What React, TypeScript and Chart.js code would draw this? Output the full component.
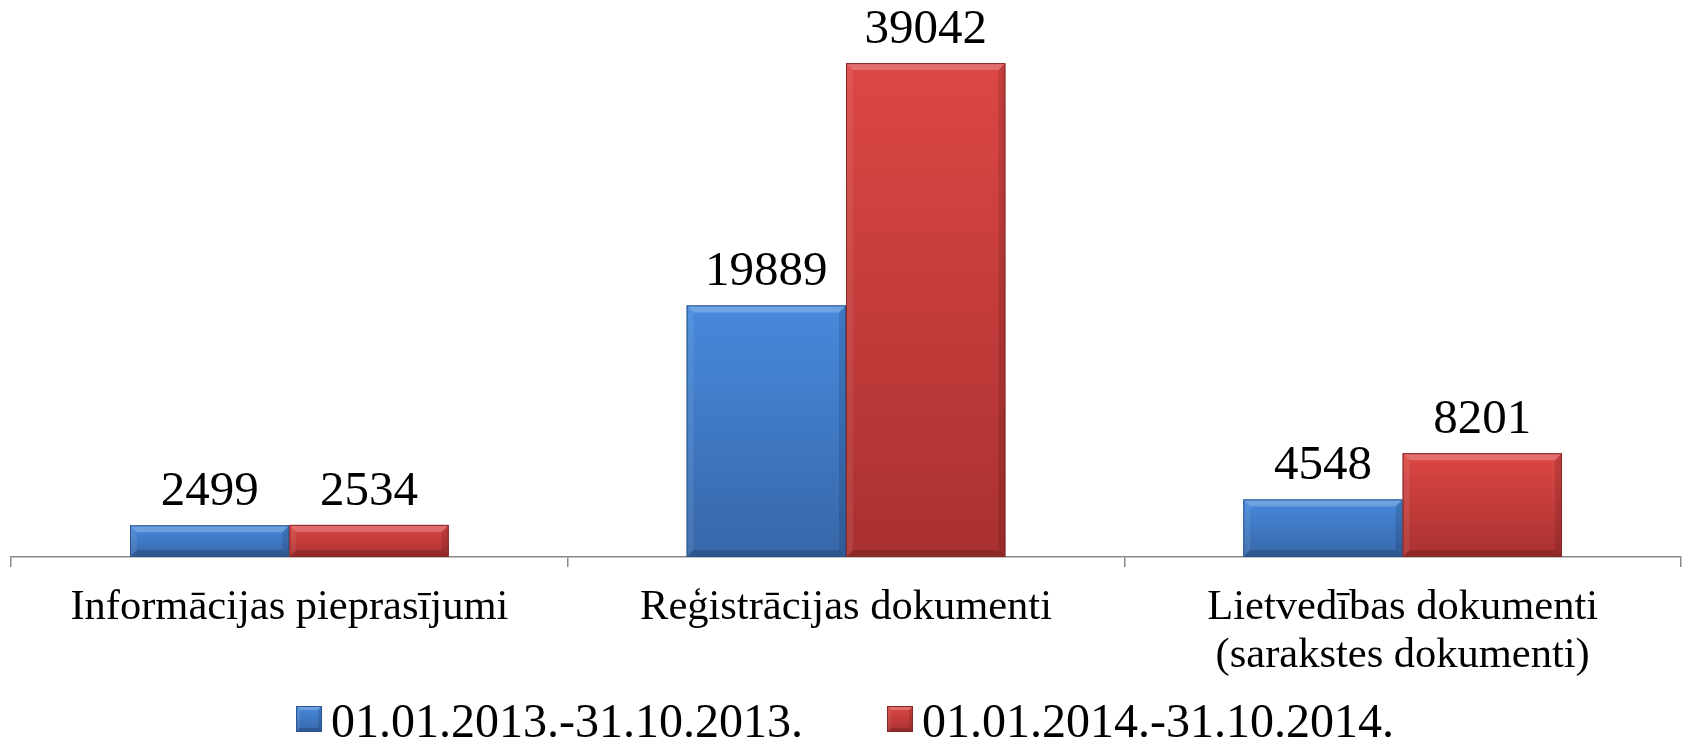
import React, { useEffect, useRef } from "react";
import { Chart, registerables } from "chart.js";

Chart.register(...registerables);

const categories: (string | string[])[] = [
  "Informācijas pieprasījumi",
  "Reģistrācijas dokumenti",
  ["Lietvedības dokumenti", "(sarakstes dokumenti)"],
];
const seriesNames = ["01.01.2013.-31.10.2013.", "01.01.2014.-31.10.2014."];
const values2013 = [2499, 19889, 4548];
const values2014 = [2534, 39042, 8201];
const yMax = 40000;

const FONT = "'Liberation Serif', 'Times New Roman', serif";

const palette = [
  { mid: "#3f7cc9", top: "#4789dc", bottom: "#3767a9", edge: "#2d5690" },
  { mid: "#d03f3d", top: "#dc4745", bottom: "#a93130", edge: "#872625" },
];

function drawBevelRect(ctx: any, l: number, t: number, w: number, h: number, p: any, depth: number) {
  const r = l + w;
  const b = t + h;
  const d = Math.min(depth, h / 3, w / 3);
  ctx.save();
  const g = ctx.createLinearGradient(0, t, 0, b);
  g.addColorStop(0, p.top);
  g.addColorStop(1, p.bottom);
  ctx.fillStyle = g;
  ctx.fillRect(l, t, w, h);
  ctx.fillStyle = "rgba(255,255,255,0.22)";
  ctx.beginPath();
  ctx.moveTo(l, t);
  ctx.lineTo(r, t);
  ctx.lineTo(r - d, t + d);
  ctx.lineTo(l + d, t + d);
  ctx.closePath();
  ctx.fill();
  ctx.fillStyle = "rgba(255,255,255,0.08)";
  ctx.beginPath();
  ctx.moveTo(l, t);
  ctx.lineTo(l + d, t + d);
  ctx.lineTo(l + d, b - d);
  ctx.lineTo(l, b);
  ctx.closePath();
  ctx.fill();
  ctx.fillStyle = "rgba(0,0,0,0.12)";
  ctx.beginPath();
  ctx.moveTo(r, t);
  ctx.lineTo(r - d, t + d);
  ctx.lineTo(r - d, b - d);
  ctx.lineTo(r, b);
  ctx.closePath();
  ctx.fill();
  ctx.fillStyle = "rgba(0,0,0,0.16)";
  ctx.beginPath();
  ctx.moveTo(l, b);
  ctx.lineTo(l + d, b - d);
  ctx.lineTo(r - d, b - d);
  ctx.lineTo(r, b);
  ctx.closePath();
  ctx.fill();
  ctx.strokeStyle = p.edge;
  ctx.lineWidth = 1;
  ctx.strokeRect(l + 0.5, t + 0.5, w - 1, h - 1);
  ctx.restore();
}

const bevelPlugin = {
  id: "bevelBars",
  afterDatasetsDraw(chart: any) {
    const ctx = chart.ctx;
    chart.data.datasets.forEach((_ds: any, di: number) => {
      const meta = chart.getDatasetMeta(di);
      meta.data.forEach((el: any) => {
        const { x, y, width, base } = el.getProps(["x", "y", "width", "base"], true);
        drawBevelRect(ctx, x - width / 2, y, width, base - y, palette[di], 7);
      });
    });
  },
};

const valueLabelPlugin = {
  id: "valueLabels",
  afterDatasetsDraw(chart: any) {
    const ctx = chart.ctx;
    ctx.save();
    ctx.font = `49px ${FONT}`;
    ctx.fillStyle = "#000";
    ctx.textAlign = "center";
    ctx.textBaseline = "alphabetic";
    chart.data.datasets.forEach((ds: any, di: number) => {
      const meta = chart.getDatasetMeta(di);
      meta.data.forEach((el: any, i: number) => {
        const { x, y } = el.getProps(["x", "y"], true);
        ctx.fillText(String(ds.data[i]), x, y - 20);
      });
    });
    ctx.restore();
  },
};

const legendPlugin = {
  id: "customLegend",
  afterDraw(chart: any) {
    const ctx = chart.ctx;
    const box = 26;
    const boxGap = 9;
    const itemGap = 84;
    ctx.save();
    ctx.font = `48px ${FONT}`;
    const names = chart.data.datasets.map((d: any) => d.label);
    const widths = names.map((n: string) => ctx.measureText(n).width);
    const total = widths.reduce((s: number, w: number) => s + box + boxGap + w, 0) + itemGap * (names.length - 1);
    let x = (chart.width - total) / 2;
    const baseline = chart.height - 7;
    names.forEach((n: string, i: number) => {
      drawBevelRect(ctx, x, baseline - 31, box, box, palette[i], 4);
      x += box + boxGap;
      ctx.fillStyle = "#000";
      ctx.textAlign = "left";
      ctx.textBaseline = "alphabetic";
      ctx.fillText(n, x, baseline);
      x += widths[i] + itemGap;
    });
    ctx.restore();
  },
};

export default function App() {
  const canvasRef = useRef<HTMLCanvasElement | null>(null);

  useEffect(() => {
    if (!canvasRef.current) return;
    const chart = new Chart(canvasRef.current, {
      type: "bar",
      data: {
        labels: categories,
        datasets: [
          {
            label: seriesNames[0],
            data: values2013,
            backgroundColor: palette[0].mid,
            borderColor: palette[0].edge,
            borderWidth: 1,
            categoryPercentage: 0.5725,
            barPercentage: 1,
          },
          {
            label: seriesNames[1],
            data: values2014,
            backgroundColor: palette[1].mid,
            borderColor: palette[1].edge,
            borderWidth: 1,
            categoryPercentage: 0.5725,
            barPercentage: 1,
          },
        ],
      },
      options: {
        animation: false,
        responsive: true,
        maintainAspectRatio: false,
        layout: { padding: { top: 51, left: 11, right: 9, bottom: 47 } },
        scales: {
          x: {
            offset: true,
            grid: {
              offset: true,
              drawOnChartArea: false,
              drawTicks: true,
              tickLength: 10,
              color: "#888888",
              lineWidth: 1.5,
            },
            border: { display: true, color: "#888888", width: 1.5 },
            ticks: {
              color: "#000",
              font: { family: FONT, size: 42.5, lineHeight: 1.13 },
              padding: 17,
              maxRotation: 0,
              autoSkip: false,
            },
          },
          y: {
            display: false,
            min: 0,
            max: yMax,
          },
        },
        plugins: {
          legend: { display: false },
          tooltip: { enabled: false },
        },
      },
      plugins: [bevelPlugin, valueLabelPlugin, legendPlugin],
    });
    return () => chart.destroy();
  }, []);

  return (
    <div style={{ position: "fixed", left: 0, top: 0, width: 1690, height: 744, background: "#fff" }}>
      <canvas ref={canvasRef} />
    </div>
  );
}
